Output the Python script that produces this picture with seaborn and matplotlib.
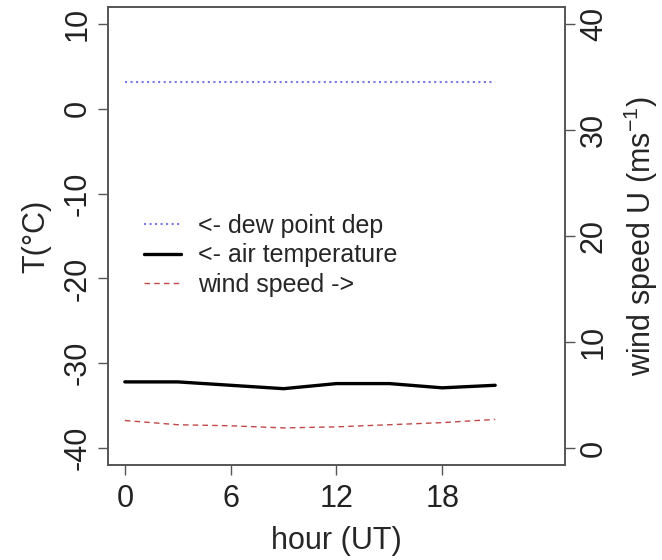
import pandas as pd
import matplotlib
matplotlib.use('Agg')
import matplotlib.pyplot as plt
import seaborn as sns

# hourly values (every 3 h)
hours = [0, 3, 6, 9, 12, 15, 18, 21]
air_temp = [-32.2, -32.2, -32.6, -33.0, -32.4, -32.4, -32.9, -32.6]
dew_dep = [3.1, 3.1, 3.1, 3.1, 3.1, 3.1, 3.1, 3.1]
wind_speed = [2.6, 2.2, 2.1, 1.9, 2.0, 2.2, 2.4, 2.7]

x_ticks = [0, 6, 12, 18]
t_ticks = [-40, -30, -20, -10, 0, 10]
u_ticks = [0, 10, 20, 30, 40]

df = pd.DataFrame({'hour': hours, 'air': air_temp, 'dew': dew_dep, 'wind': wind_speed})

sns.set_style('ticks')
plt.rcParams['font.family'] = ['Liberation Sans', 'DejaVu Sans']
plt.rcParams['axes.unicode_minus'] = False
plt.rcParams['mathtext.fontset'] = 'custom'
plt.rcParams['mathtext.rm'] = 'Liberation Sans'
plt.rcParams['mathtext.default'] = 'regular'

fig = plt.figure(figsize=(6.62, 5.6), dpi=100)
ax = fig.add_axes([0.163, 0.1696, 0.6905, 0.818])
ax2 = ax.twinx()

sns.lineplot(data=df, x='hour', y='dew', ax=ax, color='#7878e8', linestyle=':', linewidth=1.5,
             label='<- dew point dep', legend=False)
sns.lineplot(data=df, x='hour', y='air', ax=ax, color='black', linestyle='-', linewidth=2.4,
             label='<- air temperature', legend=False)
sns.lineplot(data=df, x='hour', y='wind', ax=ax2, color='#c04848', linestyle=(0, (4, 3)), linewidth=1.0,
             label='wind speed ->', legend=False)

ax.set_xlim(-0.96, 24.96)
ax.set_ylim(-42, 12)
ax2.set_ylim(-1.6, 41.6)
ax.set_xticks(x_ticks)
ax.set_yticks(t_ticks)
ax2.set_yticks(u_ticks)

fs = 22
ax.set_xlabel('hour (UT)', fontsize=fs, labelpad=8)
ax.set_ylabel('T(°C)', fontsize=fs, labelpad=8)
ax2.set_ylabel('wind speed U (ms$^{-1}$)', fontsize=fs, labelpad=9)

for a in (ax, ax2):
    a.tick_params(axis='both', labelsize=fs, length=7, width=1, color='#555555',
                  labelcolor='#222222', pad=7)
    for s in a.spines.values():
        s.set_color('#555555')
        s.set_linewidth(1.2)
ax.tick_params(axis='y', pad=4)
ax2.tick_params(axis='y', pad=3)
for lab in ax.get_yticklabels() + ax2.get_yticklabels():
    lab.set_rotation(90)
    lab.set_va('center')

handles = ax.get_lines()[:2] + ax2.get_lines()[:1]
ax.legend(handles, ['<- dew point dep', '<- air temperature', 'wind speed ->'],
          loc='upper left', bbox_to_anchor=(0.08, 0.548), frameon=False, fontsize=18,
          handlelength=1.45, handletextpad=0.7, labelspacing=0.22, borderpad=0, borderaxespad=0)

fig.savefig('out.png', dpi=100)
